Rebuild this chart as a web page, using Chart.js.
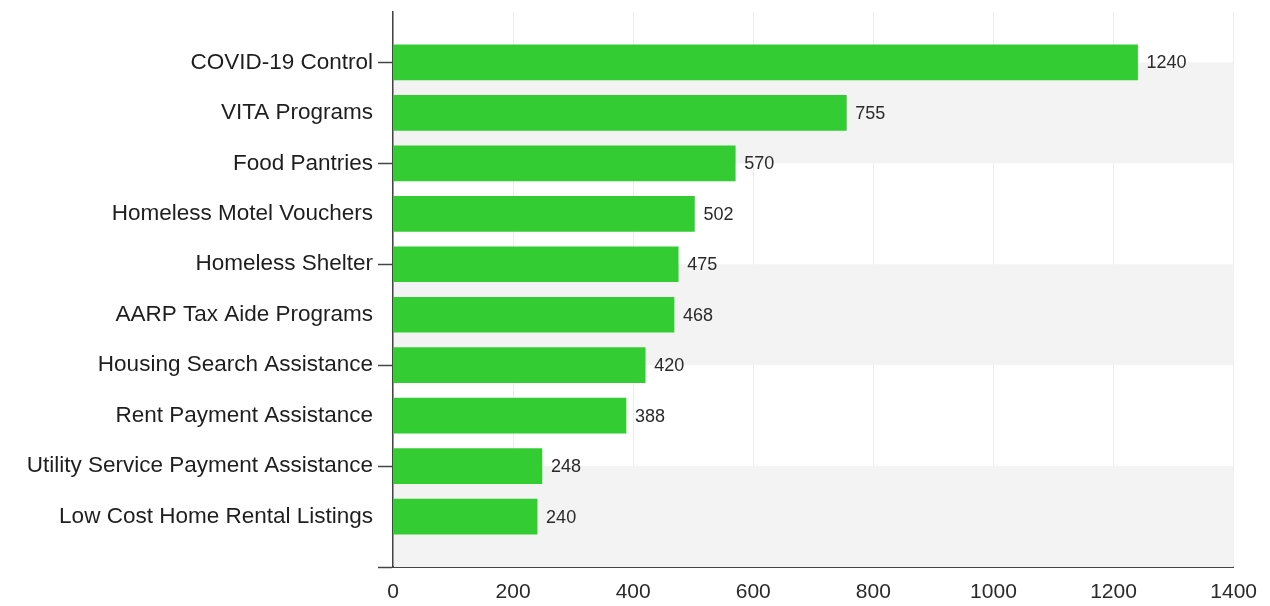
<!DOCTYPE html>
<html>
<head>
<meta charset="utf-8">
<script src="https://cdn.jsdelivr.net/npm/chart.js@4.4.1/dist/chart.umd.min.js"></script>
<style>
html,body{margin:0;padding:0;background:#fff;}
#wrap{width:1270px;height:606px;position:relative;}
</style>
</head>
<body>
<div id="wrap"><canvas id="c" width="1270" height="606"></canvas></div>
<script>
const categories = [
  "COVID-19 Control",
  "VITA Programs",
  "Food Pantries",
  "Homeless Motel Vouchers",
  "Homeless Shelter",
  "AARP Tax Aide Programs",
  "Housing Search Assistance",
  "Rent Payment Assistance",
  "Utility Service Payment Assistance",
  "Low Cost Home Rental Listings"
];
const values = [1240, 755, 570, 502, 475, 468, 420, 388, 248, 240];
const xTicks = [0, 200, 400, 600, 800, 1000, 1200, 1400];

// pad one empty slot above and below the categories (axis runs from -1 to n)
const labels = [""].concat(categories, [""]);
const data = [null].concat(values, [null]);

const FONT = "'Liberation Sans', Arial, sans-serif";

const bandsPlugin = {
  id: 'bands',
  beforeDatasetsDraw(chart) {
    const {ctx, chartArea, scales} = chart;
    const y = scales.y;
    ctx.save();
    ctx.fillStyle = '#f3f3f3';
    for (let i = 1; i + 2 <= labels.length - 1; i += 4) {
      const y1 = y.getPixelForValue(i);
      const y2 = y.getPixelForValue(i + 2);
      ctx.fillRect(chartArea.left + 1, y1, chartArea.right - chartArea.left - 1, y2 - y1);
    }
    ctx.restore();
  }
};

const valueLabels = {
  id: 'valueLabels',
  afterDatasetsDraw(chart) {
    const {ctx} = chart;
    const meta = chart.getDatasetMeta(0);
    ctx.save();
    ctx.font = "18px " + FONT;
    ctx.fillStyle = '#2a2a2a';
    ctx.textAlign = 'left';
    ctx.textBaseline = 'middle';
    meta.data.forEach((el, i) => {
      const v = data[i];
      if (v === null || v === undefined) return;
      ctx.fillText(String(v), el.x + 9, el.y + 1);
    });
    ctx.restore();
  }
};

new Chart(document.getElementById('c'), {
  type: 'bar',
  data: {
    labels: labels,
    datasets: [{
      data: data,
      backgroundColor: '#33cc33',
      borderWidth: 0,
      barThickness: 35
    }]
  },
  plugins: [bandsPlugin, valueLabels],
  options: {
    indexAxis: 'y',
    responsive: false,
    animation: false,
    events: [],
    layout: { padding: { top: 12, right: 31, bottom: 0, left: 0 } },
    plugins: { legend: { display: false }, tooltip: { enabled: false } },
    scales: {
      x: {
        type: 'linear',
        min: xTicks[0],
        max: xTicks[xTicks.length - 1],
        afterBuildTicks(scale) { scale.ticks = xTicks.map(v => ({value: v})); },
        afterFit(scale) { scale.height = 39; },
        grid: { color: '#ececec', lineWidth: 1, drawTicks: false },
        border: { color: '#444444', width: 2 },
        ticks: {
          font: { family: FONT, size: 21 }, color: '#2a2a2a', padding: 13,
          callback: (v) => String(v)
        }
      },
      y: {
        type: 'category',
        offset: false,
        afterFit(scale) { scale.width = 393; scale.paddingTop = 0; scale.paddingBottom = 0; },
        grid: {
          offset: false,
          drawOnChartArea: false,
          drawTicks: true,
          tickLength: 15,
          tickWidth: 1.5,
          tickColor: (c) => (c.index % 2 === 1 ? '#444444' : 'rgba(0,0,0,0)')
        },
        border: { color: '#444444', width: 1.5 },
        ticks: { font: { family: FONT, size: 22.5 }, color: '#1e1e1e', padding: 5, autoSkip: false }
      }
    }
  }
});
</script>
